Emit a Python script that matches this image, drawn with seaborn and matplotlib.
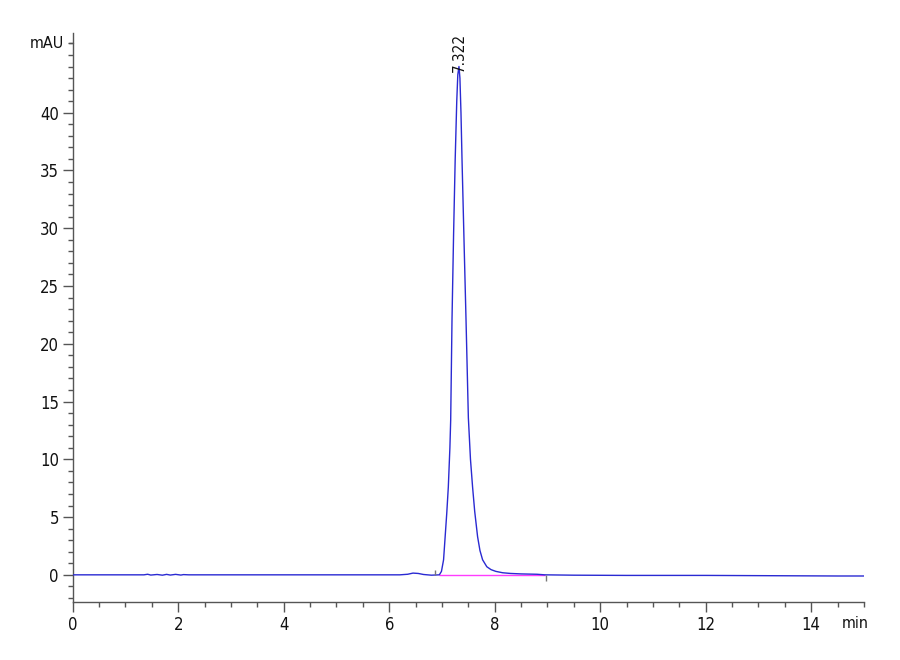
import numpy as np
import pandas as pd
import matplotlib
matplotlib.use("Agg")
import matplotlib.pyplot as plt
import seaborn as sns
from matplotlib.ticker import MultipleLocator

# ---- data ----
time_min = [0.0, 1.35, 1.42, 1.48, 1.6, 1.7, 1.78, 1.85, 1.95, 2.05, 2.1, 2.2,
            6.2, 6.35, 6.45, 6.55, 6.65, 6.8, 6.95,
            6.99, 7.03, 7.06, 7.09, 7.12, 7.15, 7.165, 7.19, 7.22, 7.25, 7.28, 7.30,
            7.322, 7.34, 7.36, 7.38, 7.42, 7.455, 7.50, 7.54, 7.58, 7.62, 7.675,
            7.72, 7.77, 7.85, 7.93, 8.02, 8.15, 8.3, 8.5, 8.8, 8.95,
            9.5, 10.5, 12.0, 13.5, 14.5, 15.0]
signal_mau = [0.0, 0.0, 0.05, -0.02, 0.03, -0.03, 0.04, -0.02, 0.04, -0.02, 0.02, 0.0,
              0.0, 0.05, 0.15, 0.12, 0.03, -0.03, 0.0,
              0.3, 1.3, 3.3, 5.3, 7.6, 11.0, 13.4, 22.1, 29.5, 35.9, 41.0, 43.3,
              44.0, 43.0, 40.0, 35.9, 28.5, 22.2, 13.6, 10.0, 7.6, 5.5, 3.3,
              2.1, 1.3, 0.7, 0.45, 0.3, 0.18, 0.12, 0.08, 0.05, 0.0,
              -0.03, -0.05, -0.05, -0.08, -0.1, -0.1]
peak_rt = [7.322]
peak_height = [44.0]
peak_labels = ["7.322"]
baseline_start = [6.95]
baseline_end = [8.95]
event_times = [6.86, 8.97]
event_low = [0.0, -0.5]
event_high = [0.4, 0.0]
x_major = [0, 2, 4, 6, 8, 10, 12, 14]
y_major = [0, 5, 10, 15, 20, 25, 30, 35, 40]

df = pd.DataFrame({"time": time_min, "signal": signal_mau})

sns.set_theme(style="white")
plt.rcParams['font.family'] = ['DejaVu Sans']
plt.rcParams['font.stretch'] = 'condensed'

fig = plt.figure(figsize=(9, 6.6), dpi=100)
ax = fig.add_axes([0.0808, 0.0879, 0.8792, 0.8621])

# baseline (magenta)
ax.hlines([0.0], baseline_start, baseline_end, color="#ff3cff", linewidth=1.0, zorder=2)

sns.lineplot(data=df, x="time", y="signal", ax=ax, color="#2a2ad2",
             linewidth=1.0, sort=False, zorder=3)

# baseline event markers
ax.vlines(event_times, event_low, event_high, color="#777777", linewidth=1.0, zorder=4)

for rt, h, lab in zip(peak_rt, peak_height, peak_labels):
    ax.text(rt, h - 0.5, lab, rotation=90, ha="center", va="bottom",
            fontsize=11, color="#111111")

ax.set_xlim(0, 15)
ax.set_ylim(-2.35, 46.9)
ax.set_xticks(x_major)
ax.set_xticklabels([str(v) for v in x_major])
ax.set_yticks(y_major)
ax.set_yticklabels([str(v) for v in y_major])
ax.xaxis.set_minor_locator(MultipleLocator(0.5))
ax.yaxis.set_minor_locator(MultipleLocator(1))

ax.set_xlabel("")
ax.set_ylabel("")
for s in ["top", "right"]:
    ax.spines[s].set_visible(False)
for s in ["left", "bottom"]:
    ax.spines[s].set_color("#555555")
    ax.spines[s].set_linewidth(1.0)

ax.tick_params(axis="both", which="major", direction="out", length=7, width=1.0,
               color="#555555", labelsize=12, labelcolor="#111111", pad=3,
               left=True, bottom=True)
ax.tick_params(axis="both", which="minor", direction="out", length=3.5, width=1.0,
               color="#555555", left=True, bottom=True)

# unit labels
ax.text(-0.17, 46.0, "mAU", ha="right", va="center", fontsize=11.5, color="#111111")
ax.plot([-0.07, 0.0], [46.0, 46.0], color="#555555", linewidth=1.0, clip_on=False)
ax.annotate("min", xy=(14.84, -2.35), xycoords="data", xytext=(0, -10),
            textcoords="offset points", ha="center", va="top", fontsize=11.5,
            color="#111111", annotation_clip=False)

ax.grid(False)
fig.savefig("out.png", dpi=100, facecolor="white")
